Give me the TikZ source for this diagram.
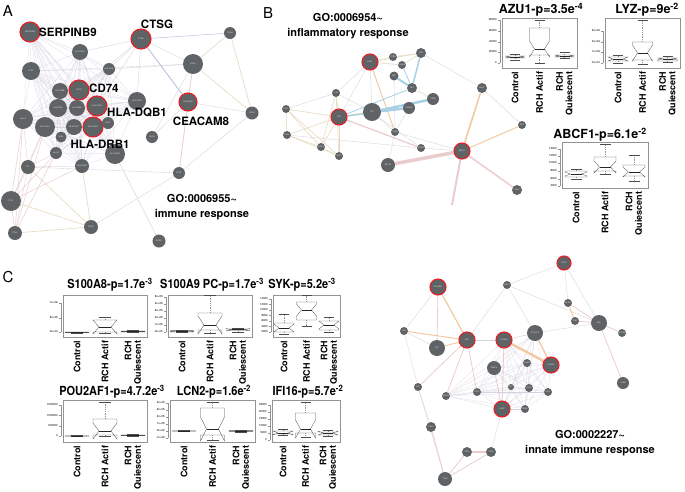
\documentclass[tikz,border=0pt]{standalone}
\usepackage{fontspec}
\setmainfont{TeX Gyre Heros}
\newfontfamily\hvcond[FakeStretch=0.88]{TeX Gyre Heros}
\usetikzlibrary{backgrounds}

\definecolor{nodegray}{RGB}{96,99,101}
\definecolor{hitred}{RGB}{232,30,36}
\definecolor{meshcol}{RGB}{214,210,224}
\definecolor{lkgraycol}{RGB}{210,210,218}
\definecolor{lktancol}{RGB}{230,218,190}
\definecolor{lkbluecol}{RGB}{165,208,230}
\definecolor{lkorangecol}{RGB}{242,202,162}
\definecolor{lkrosecol}{RGB}{234,204,204}
\definecolor{lkslatecol}{RGB}{185,192,218}

\tikzset{
  gene/.style={circle, fill=nodegray, inner sep=0pt, minimum size=#1,
    font=\fontsize{2}{2.2}\selectfont, text=white!80!gray},
  gene/.default=14,
  hit/.style={draw=hitred, line width=1.1pt},
  glabel/.style={font=\fontsize{11.5}{12}\selectfont\bfseries, inner sep=0pt},
  golabel/.style={font=\fontsize{11}{15}\selectfont\bfseries, align=center, inner sep=0pt},
  panel/.style={font=\fontsize{15}{15}\selectfont, inner sep=0pt},
  lk/.style={lkgraycol, line width=0.35pt},
  lkmesh/.style={meshcol, line width=0.2pt},
  lktan/.style={lktancol, line width=#1}, lktan/.default=0.6pt,
  lkblue/.style={lkbluecol, line width=#1}, lkblue/.default=1.5pt,
  lkorange/.style={lkorangecol, line width=#1}, lkorange/.default=1pt,
  lkrose/.style={lkrosecol, line width=#1}, lkrose/.default=0.5pt,
  lkslate/.style={lkslatecol, line width=#1}, lkslate/.default=0.5pt,
  % boxplots
  plotframe/.style={draw=gray!85, line width=0.4pt},
  whisk/.style={gray!85, line width=0.3pt, dash pattern=on 1pt off 0.8pt},
  boxln/.style={gray!60!black, line width=0.3pt},
  medln/.style={black!85, line width=0.8pt},
  tickln/.style={gray!85, line width=0.3pt},
  ticklab/.style={font=\fontsize{2.8}{3}\selectfont, anchor=east, inner sep=0.5pt},
  ttl/.style={font=\fontsize{12.5}{12.5}\selectfont\bfseries, inner sep=0pt},
  ttlc/.style={font=\hvcond\fontsize{12.5}{12.5}\selectfont\bfseries, inner sep=0pt},
  grp/.style={font=\fontsize{9}{9.5}\selectfont\bfseries, rotate=90, anchor=east,
    align=right, inner sep=0.5pt},
}

% cx, half width, hi, q3, med, q1, lo, notch
\newcommand{\notchbox}[8]{%
  \draw[whisk] (#1,#4) -- (#1,#3);
  \draw[whisk] (#1,#6) -- (#1,#7);
  \draw[boxln] (#1-#2/2,#3) -- (#1+#2/2,#3);
  \draw[boxln] (#1-#2/2,#7) -- (#1+#2/2,#7);
  \draw[boxln] (#1-#2,#4) -- (#1+#2,#4) -- (#1+#2,#5-#8) -- (#1+#2/2,#5)
    -- (#1+#2,#5+#8) -- (#1+#2,#6) -- (#1-#2,#6) -- (#1-#2,#5+#8)
    -- (#1-#2/2,#5) -- (#1-#2,#5-#8) -- cycle;
  \draw[medln] (#1-#2/2,#5) -- (#1+#2/2,#5);
}

\begin{document}
\begin{tikzpicture}[x=1pt, y=-1pt]
\useasboundingbox (0,0) rectangle (685,491);

% ---------------- A ----------------
\node[panel] (pA) at (8,11) {A};
\node[gene=20, hit] (aSERP) at (30,32) {SERPINB9};
\node[gene=20, hit] (aCTSG) at (141,39) {CTSG};
\node[gene=12] (aPSG9) at (230,33) {PSG9};
\node[gene=16] (aDQA) at (80,52) {HLA-DQA1};
\node[gene=18] (aLCP) at (31,71) {LCP2};
\node[gene=12] (aDOB) at (109,69) {HLA-DOB};
\node[gene=20] (aPSG1) at (193,64) {PSG1};
\node[gene=20, hit] (aCD74) at (79,90) {CD74};
\node[gene=16] (aDMB) at (60,91) {HLA-DMB};
\node[gene=20, hit] (aDQB1) at (97,106) {HLA-DQB1};
\node[gene=18] (aDRA) at (58,108) {HLA-DRA};
\node[gene=16] (aDMA) at (77,108) {HLA-DMA};
\node[gene=18] (aDRB3) at (137,101) {HLA-DRB3};
\node[gene=18, hit] (aCEA) at (188,102) {CEACAM8};
\node[gene=20] (aHLAA) at (23,119) {HLA-A};
\node[gene=20] (aDPB) at (45,127) {HLA-DPB1};
\node[gene=16] (aDPA) at (74,127) {HLA-DPA1};
\node[gene=20, hit] (aDRB1) at (93,127) {HLA-DRB1};
\node[gene=12] (aHLAF) at (108,123) {HLA-F};
\node[gene=12] (aCNFP) at (152,137) {CNFN};
\node[gene=11] (aBSN) at (61,137) {B2M};
\node[gene=13] (aPSG4) at (252,113) {PSG4};
\node[gene=12] (aHLAE) at (56,153) {HLA-E};
\node[gene=20] (aDRB4) at (115,154) {HLA-DRB4};
\node[gene=14] (aDRB5) at (82,166) {HLA-DRB5};
\node[gene=14] (aFTL) at (28,167) {FTL};
\node[gene=12] (aFPR) at (179,173) {FPR2};
\node[gene=20] (aFTH) at (11,201) {FTH1};
\node[gene=14] (aFTHL) at (15,233) {FTHL};
\node[gene=14] (aITM) at (91,227) {IFITM1};
\node[gene=13] (aBPI) at (159,241) {BPIFA};

\node[glabel, anchor=west] (lSERP) at (39,32) {SERPINB9};
\node[glabel] (lCTSG) at (157,24) {CTSG};
\node[glabel, anchor=west] (lCD74) at (89,88) {CD74};
\node[glabel, anchor=west] (lDQB1) at (107,112) {HLA-DQB1};
\node[glabel] (lCEA) at (201,121) {CEACAM8};
\node[glabel] (lDRB1) at (100,144) {HLA-DRB1};
\node[golabel] (goA) at (202,207) {GO:0006955\char`~\\immune response};

\begin{scope}[on background layer]
\foreach \a [count=\i] in {aSERP,aDQA,aLCP,aDOB,aCD74,aDMB,aDQB1,aDRA,aDMA,aDRB3,aHLAA,aDPB,aDPA,aDRB1,aHLAF,aBSN,aHLAE,aDRB4,aDRB5}
  {\foreach \b [count=\j] in {aSERP,aDQA,aLCP,aDOB,aCD74,aDMB,aDQB1,aDRA,aDMA,aDRB3,aHLAA,aDPB,aDPA,aDRB1,aHLAF,aBSN,aHLAE,aDRB4,aDRB5}
    {\ifnum\j>\i \draw[lkmesh] (\a) -- (\b); \fi}}
\foreach \a/\b in {aCTSG/aPSG1,aCTSG/aDOB,aCTSG/aDQA,aCTSG/aCD74,aCTSG/aDQB1,aCTSG/aDRB3,
    aPSG1/aLCP,aPSG1/aDOB,aPSG1/aCNFP,aCEA/aCNFP,aFPR/aITM,aFPR/aFTL,aFPR/aPSG4,
    aFTL/aFTH,aFTL/aFTHL,aHLAA/aFTL,aDPB/aFTL,aHLAE/aFTL,aDRB5/aFTL,aCEA/aPSG4}
  \draw[lk] (\a) -- (\b);
\draw[lkslate] (aCTSG) -- (aPSG9);
\draw[lkslate=0.9pt] (aCTSG) -- (aCEA);
\foreach \a/\b in {aPSG9/aPSG1,aPSG9/aPSG4,aPSG1/aPSG4,aFTL/aITM,aFTH/aITM,aFTHL/aITM,aDRB5/aITM}
  \draw[lktan] (\a) -- (\b);
\foreach \a/\b in {aPSG1/aCEA,aPSG1/aFPR,aCEA/aFPR,aDRB4/aBPI,aFTH/aFTHL,aHLAA/aFTH,aDPB/aFTH,
    aDPB/aFTHL,aHLAE/aFTH,aHLAE/aFTHL,aDRB5/aFTH,aHLAA/aFTHL}
  \draw[lkrose] (\a) -- (\b);
\end{scope}

% ---------------- B ----------------
\node[panel] (pB) at (268,13) {B};
\node[golabel] (goB) at (348,26) {GO:0006954\char`~\\inflammatory response};
\node[gene=16, hit] (bAZU) at (370,62) {AZU1};
\node[gene=8] (b2) at (393,57) {CTSG};
\node[gene=8] (b3) at (402,65) {ELANE};
\node[gene=10] (b4) at (421,53) {CD9};
\node[gene=9] (b5) at (394,76) {LBP};
\node[gene=10] (b6) at (412,88) {BPI};
\node[gene=12] (b7) at (433,99) {CTSB};
\node[gene=8] (b8) at (336,93) {IL1R};
\node[gene=8] (b9) at (286,109) {CCL3};
\node[gene=16, hit] (bLYZ) at (339,117) {LYZ};
\node[gene=18] (bLTF) at (372,112) {LTF};
\node[gene=12] (b12) at (409,108) {CEBPB};
\node[gene=8] (b13) at (287,135) {CCL4};
\node[gene=8] (b14) at (321,147) {CXCL8};
\node[gene=8] (b15) at (339,156) {CCR1};
\node[gene=8] (b16) at (395,132) {C3AR};
\node[gene=8] (b17) at (421,148) {CHST2};
\node[gene=14] (b18) at (388,165) {SPP1B};
\node[gene=16, hit] (bABCF) at (462,151) {ABCF1};
\node[gene=10] (b20) at (482,88) {SELE};
\node[gene=8] (b21) at (522,125) {NFX};
\node[gene=10] (b22) at (517,190) {CD44};
\coordinate (bdown) at (452,205);

\begin{scope}[on background layer]
\foreach \a/\b in {bAZU/b8,bAZU/bLTF,b4/b20,b20/b21,b16/bABCF,b17/bABCF,bLTF/b17,b12/b16,
    bLTF/b16,b16/b18,b8/bLTF,b5/b16,b13/b17,b9/b8,bAZU/bLYZ}
  \draw[lk] (\a) -- (\b);
\foreach \a/\b in {bAZU/b2,bAZU/b3,bAZU/b4,b2/b4,b3/b4,b6/b7,bLYZ/b8,bLYZ/b9,bLYZ/b13,bLYZ/b14,
    bLYZ/b15,b9/b13,b9/b14,b9/b15,b13/b14,b14/b15,b8/b15,b8/b14,b13/b15}
  \draw[lktan] (\a) -- (\b);
\draw[lktan=1.5pt] (bLYZ) -- (bLTF);
\draw[lkorange] (bAZU) -- (b16);
\draw[lkorange=1.6pt] (bABCF) -- (b20);
\draw[lkorange] (bABCF) -- (b21);
\draw[lkblue] (b4) -- (b6);
\draw[lkblue=2pt] (b5) -- (b6);
\draw[lkblue=2.5pt] (bLTF) -- (b7);
\draw[lkblue=2.5pt] (bLTF) -- (b12);
\draw[lkblue=1.2pt] (bLYZ) -- (b12);
\draw[lkblue=0.8pt] (bLYZ) -- (b6);
\draw[lkblue=0.8pt] (b3) -- (b6);
\draw[lkrose=3.5pt] (b18) -- (bABCF);
\draw[lkrose=2pt] (bABCF) -- (bdown);
\draw[lkrose=1.5pt] (bABCF) -- (b22);
\draw[lkrose=1.2pt] (bLYZ) -- (b17);
\end{scope}

% boxplots B
\begin{scope}[shift={(502,18)}]
\draw[plotframe] (0,0) rectangle (75,50);
\node[ttl] (tAZU) at (39,-8) {AZU1-p=3.5e\textsuperscript{-4}};
\draw[tickln] (-2,2) -- (-2,45);
\foreach \v/\t in {2/80000,13/60000,24/40000,34/20000,45/0}
  {\draw[tickln] (-4,\v) -- (-2,\v); \node[ticklab] at (-4.5,\v) {\t};}
\notchbox{13}{10}{36}{38}{39}{40}{42}{1}
\notchbox{37.5}{10}{2}{10}{31}{37}{45}{8}
\notchbox{62.5}{10}{34}{37}{38}{39}{40}{1}
\node[grp] (azC) at (13,53) {Control};
\node[grp] (azA) at (37.5,53) {RCH Actif};
\node[grp] (azQ) at (62.5,53) {RCH\\Quiescent};
\end{scope}

\begin{scope}[shift={(605,18)}]
\draw[plotframe] (0,0) rectangle (75,50);
\node[ttl] (tLYZ) at (42,-8) {LYZ-p=9e\textsuperscript{-2}};
\draw[tickln] (-2,13) -- (-2,45);
\foreach \v/\t in {13/3e+06,24/2e+06,34/1e+06,45/0e+00}
  {\draw[tickln] (-4,\v) -- (-2,\v); \node[ticklab] at (-4.5,\v) {\t};}
\notchbox{13}{10}{37}{39}{41}{43}{45}{2}
\notchbox{37.5}{10}{2}{24}{35}{42}{46}{8}
\notchbox{62.5}{10}{38}{40}{41}{43}{44}{1}
\node[grp] (lyC) at (13,53) {Control};
\node[grp] (lyA) at (37.5,53) {RCH Actif};
\node[grp] (lyQ) at (62.5,53) {RCH\\Quiescent};
\end{scope}

\begin{scope}[shift={(562,142)}]
\draw[plotframe] (0,0) rectangle (86,46);
\node[ttl] (tABCF) at (38,-7) {ABCF1-p=6.1e\textsuperscript{-2}};
\draw[tickln] (-2,7) -- (-2,44);
\foreach \v/\t in {7/14000,14/12000,21/10000,29/8000,37/6000,44/4000}
  {\draw[tickln] (-4,\v) -- (-2,\v); \node[ticklab] at (-4.5,\v) {\t};}
\notchbox{14}{11}{27}{29}{32}{35}{37}{2}
\notchbox{43}{11}{2}{15}{25}{29}{32}{6}
\notchbox{72}{11}{13}{23}{30}{34}{39}{5}
\node[grp] (abC) at (14,49) {Control};
\node[grp] (abA) at (43,49) {RCH Actif};
\node[grp] (abQ) at (72,49) {RCH\\Quiescent};
\end{scope}

% ---------------- C ----------------
\node[panel] (pC) at (8,277) {C};

\begin{scope}[shift={(63,295)}]
\draw[plotframe] (0,0) rectangle (84,42);
\node[ttlc] (tS8) at (47,-10) {S100A8-p=1.7e\textsuperscript{-3}};
\draw[tickln] (-2,8) -- (-2,37);
\foreach \v/\t in {8/1e+06,23/5e+05,37/0e+00}
  {\draw[tickln] (-4,\v) -- (-2,\v); \node[ticklab] at (-4.5,\v) {\t};}
\notchbox{14}{12}{37}{37}{37.3}{37.6}{37.8}{0.2}
\notchbox{42}{12}{22}{25}{32}{37}{38}{7}
\notchbox{70}{12}{35.5}{36}{36.5}{37}{37.5}{0.3}
\node[grp] (s8C) at (14,45) {Control};
\node[grp] (s8A) at (42,45) {RCH Actif};
\node[grp] (s8Q) at (70,45) {RCH\\Quiescent};
\end{scope}

\begin{scope}[shift={(168,295)}]
\draw[plotframe] (0,0) rectangle (84,42);
\node[ttlc] (tS9) at (44,-10) {S100A9 PC-p=1.7e\textsuperscript{-3}};
\draw[tickln] (-2,2) -- (-2,37);
\foreach \v/\t in {2/5e+05,9/4e+05,16/3e+05,23/2e+05,30/1e+05,37/0e+00}
  {\draw[tickln] (-4,\v) -- (-2,\v); \node[ticklab] at (-4.5,\v) {\t};}
\notchbox{14}{12}{35}{35.5}{36}{37}{37.5}{0.5}
\notchbox{42}{12}{0}{18}{30}{35}{38}{9}
\notchbox{70}{12}{33}{34}{34.5}{35.5}{37}{1}
\node[grp] (s9C) at (14,45) {Control};
\node[grp] (s9A) at (42,45) {RCH Actif};
\node[grp] (s9Q) at (70,45) {RCH\\Quiescent};
\end{scope}

\begin{scope}[shift={(273,295)}]
\draw[plotframe] (0,0) rectangle (67,42);
\node[ttlc] (tSYK) at (29,-10) {SYK-p=5.2e\textsuperscript{-3}};
\draw[tickln] (-2,4) -- (-2,37);
\foreach \v/\t in {4/14000,9.5/12000,15/10000,20.5/8000,26/6000,31.5/4000,37/2000}
  {\draw[tickln] (-4,\v) -- (-2,\v); \node[ticklab] at (-4.5,\v) {\t};}
\notchbox{11}{10}{19}{28}{33}{37}{39}{4}
\notchbox{33.5}{10}{0}{7}{15}{25}{31}{6}
\notchbox{56}{10}{22}{26}{30}{35}{37}{4}
\node[grp] (syC) at (11,45) {Control};
\node[grp] (syA) at (33.5,45) {RCH Actif};
\node[grp] (syQ) at (56,45) {RCH\\Quiescent};
\end{scope}

\begin{scope}[shift={(63,400)}]
\draw[plotframe] (0,0) rectangle (84,42);
\node[ttlc] (tPOU) at (49,-8) {POU2AF1-p=4.7.2e\textsuperscript{-3}};
\draw[tickln] (-2,5) -- (-2,36);
\foreach \v/\t in {5/1500000,15.5/1000000,26/500000,36/0}
  {\draw[tickln] (-4,\v) -- (-2,\v); \node[ticklab] at (-4.5,\v) {\t};}
\notchbox{14}{12}{35.5}{35.7}{36}{36.3}{36.5}{0.2}
\notchbox{42}{12}{2}{19}{31}{35}{36}{8}
\notchbox{70}{12}{34.5}{35}{35.3}{35.6}{36}{0.2}
\node[grp] (poC) at (14,45) {Control};
\node[grp] (poA) at (42,45) {RCH Actif};
\node[grp] (poQ) at (70,45) {RCH\\Quiescent};
\end{scope}

\begin{scope}[shift={(170,400)}]
\draw[plotframe] (0,0) rectangle (85,42);
\node[ttlc] (tLCN) at (44,-8) {LCN2-p=1.6e\textsuperscript{-2}};
\draw[tickln] (-2,3) -- (-2,38);
\foreach \v/\t in {3/4e+05,10/3e+05,17/2e+05,24/1e+05,31/0e+00,38/-1e+05}
  {\draw[tickln] (-4,\v) -- (-2,\v); \node[ticklab] at (-4.5,\v) {\t};}
\notchbox{14}{12}{30.5}{30.8}{31}{31.2}{31.5}{0.2}
\notchbox{42.5}{12}{2}{8}{29}{35}{40}{12}
\notchbox{71}{12}{30.3}{30.6}{31}{31.4}{31.7}{0.3}
\node[grp] (lcC) at (14,45) {Control};
\node[grp] (lcA) at (42.5,45) {RCH Actif};
\node[grp] (lcQ) at (71,45) {RCH\\Quiescent};
\end{scope}

\begin{scope}[shift={(272,400)}]
\draw[plotframe] (0,0) rectangle (68,42);
\node[ttlc] (tIFI) at (36,-8) {IFI16-p=5.7e\textsuperscript{-2}};
\draw[tickln] (-2,5) -- (-2,40);
\foreach \v/\t in {5/25000,12/20000,19/15000,26/10000,33/5000,40/0}
  {\draw[tickln] (-4,\v) -- (-2,\v); \node[ticklab] at (-4.5,\v) {\t};}
\notchbox{11}{10}{29}{31}{33}{34}{35}{2}
\notchbox{33.5}{10}{2}{13}{29}{33}{37}{9}
\notchbox{56}{10}{30}{32}{33}{35}{36}{2}
\node[grp] (ifC) at (11,45) {Control};
\node[grp] (ifA) at (33.5,45) {RCH Actif};
\node[grp] (ifQ) at (56,45) {RCH\\Quiescent};
\end{scope}

% network C
\node[golabel] (goC) at (590,443) {GO:0002227\char`~\\innate immune response};
\node[gene=16, hit] (c1) at (438,287) {POU2AF1};
\node[gene=14, hit] (c2) at (564,263) {IFI16};
\node[gene=8] (c3) at (507,285) {MBL2};
\node[gene=8] (c4) at (568,303) {NLRC};
\node[gene=8] (c5) at (575,321) {TLR2};
\node[gene=16] (c6) at (599,323) {MAL};
\node[gene=8] (c7) at (622,333) {MYD88};
\node[gene=8] (c8) at (404,331) {CD2};
\node[gene=16, hit] (c9) at (467,340) {SYK};
\node[gene=16, hit] (c10) at (504,340) {S100A8};
\node[gene=16] (c11) at (535,333) {S100A12};
\node[gene=16] (c12) at (437,348) {CD1};
\node[gene=16, hit] (c13) at (551,365) {S100A9};
\node[gene=8] (c14) at (527,363) {CAMP};
\node[gene=14] (c15) at (494,368) {MMP9};
\node[gene=8] (c16) at (418,387) {LBP};
\node[gene=8] (c17) at (446,396) {DEFA4};
\node[gene=8] (c18) at (477,392) {CD14};
\node[gene=6] (c19) at (511,387) {LTF};
\node[gene=8] (c20) at (529,388) {CHI3L};
\node[gene=8] (c21) at (548,392) {CD93};
\node[gene=12] (c22) at (623,383) {CYBB};
\node[gene=16, hit] (c23) at (502,409) {LCN2};
\node[gene=8] (c24) at (525,409) {ORM1};
\node[gene=10] (c25) at (431,427) {CRLF};
\node[gene=10] (c26) at (467,452) {IRF3};
\node[gene=10] (c27) at (491,452) {IRF8};
\node[gene=14] (c28) at (445,479) {TLR4};

\begin{scope}[on background layer]
\foreach \a [count=\i] in {c10,c11,c13,c14,c15,c17,c18,c19,c20,c21,c23,c24}
  {\foreach \b [count=\j] in {c10,c11,c13,c14,c15,c17,c18,c19,c20,c21,c23,c24}
    {\ifnum\j>\i \draw[lkmesh] (\a) -- (\b); \fi}}
\foreach \a/\b in {c1/c8,c1/c9,c3/c9,c3/c2,c3/c6,c2/c4,c2/c6,c11/c6,c8/c16,c16/c25,c27/c23,
    c9/c10,c10/c11,c16/c28,c8/c12,c11/c3}
  \draw[lk] (\a) -- (\b);
\foreach \a/\b in {c4/c6,c5/c6,c6/c7,c6/c22,c25/c28,c28/c26,c28/c27,c9/c16,c9/c17,c9/c18,
    c15/c23,c10/c23,c1/c12}
  \draw[lkrose=0.8pt] (\a) -- (\b);
\draw[lkrose=1.6pt] (c26) -- (c27);
\draw[lkorange] (c4) -- (c5);
\draw[lkorange] (c8) -- (c9);
\draw[lkorange=1.2pt] (c1) -- (c9);
\draw[lkorange=0.9pt] (c9) -- (c12);
\draw[lkorange=2.5pt] (c10) -- (c13);
\draw[lkorange=1.5pt] (c11) -- (c13);
\end{scope}
\end{tikzpicture}
\end{document}
